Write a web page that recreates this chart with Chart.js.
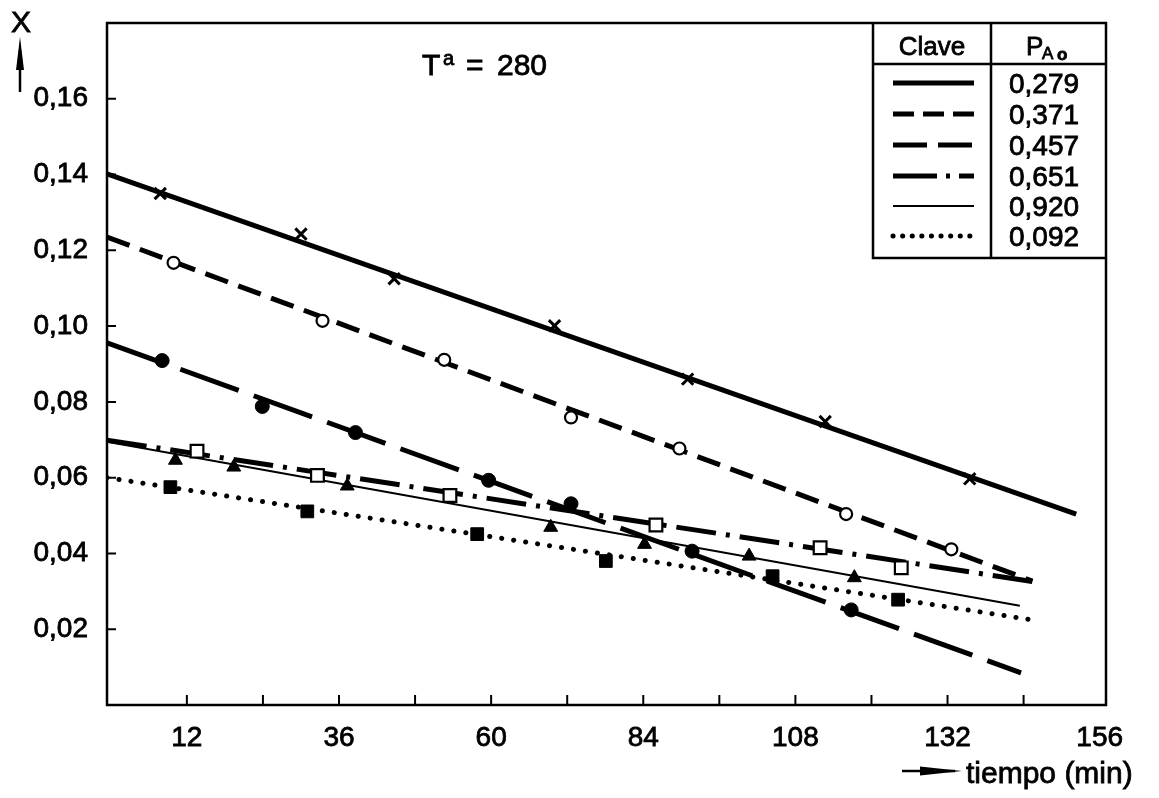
<!DOCTYPE html>
<html>
<head>
<meta charset="utf-8">
<script src="https://cdn.jsdelivr.net/npm/chart.js@4.4.1/dist/chart.umd.min.js"></script>
<style>
  html, body { margin: 0; padding: 0; background: #fff; }
  #wrap { width: 1159px; height: 798px; }
</style>
</head>
<body>
<div id="wrap"><canvas id="chart"></canvas></div>
<script>
// P_Ao values of the key, same order as the series below
const pressures = ['0,279', '0,371', '0,457', '0,651', '0,920', '0,092'];

// fitted straight lines (start / end of each)
const fitStartX = [-0.6, -0.6, -0.6, -0.6, -0.6, -0.6];
const fitStartY = [0.1402, 0.1235, 0.0956, 0.0699, 0.0695, 0.0600];
const fitEndX = [152.3, 145.4, 143.6, 145.4, 143.4, 145.2];
const fitEndY = [0.0504, 0.0327, 0.0085, 0.0326, 0.0262, 0.0225];

// measured points
const time279 = [7.8, 30, 44.7, 70, 91, 112.7, 135.5];
const conv279 = [0.135, 0.1243, 0.1125, 0.1001, 0.086, 0.0748, 0.0597];
const time371 = [9.9, 33.4, 52.6, 72.6, 89.7, 116, 132.6];
const conv371 = [0.1167, 0.1014, 0.0911, 0.0759, 0.0677, 0.0504, 0.0411];
const time457 = [8.1, 23.9, 38.6, 59.6, 72.6, 91.7, 116.8];
const conv457 = [0.0909, 0.0788, 0.0719, 0.0593, 0.0531, 0.0406, 0.0251];
const time651 = [13.6, 32.6, 53.5, 86, 111.9, 124.7];
const conv651 = [0.067, 0.0606, 0.0553, 0.0475, 0.0415, 0.0362];
const time920 = [10.2, 19.4, 37.3, 69.4, 84.2, 100.7, 117.3];
const conv920 = [0.0646, 0.0628, 0.0578, 0.0469, 0.0424, 0.0393, 0.0336];
const time092 = [9.4, 31, 57.8, 78.1, 104.4, 124.2];
const conv092 = [0.0575, 0.0511, 0.0451, 0.038, 0.034, 0.0278];

// axis ticks
const xLabelValues = [12, 36, 60, 84, 108, 132, 156];
const xMarkValues = [12, 24, 36, 48, 60, 72, 84, 96, 108, 120, 132, 144];
const yTickValues = [0.02, 0.04, 0.06, 0.08, 0.10, 0.12, 0.14, 0.16];

const FONT = "'Liberation Sans', 'DejaVu Sans', sans-serif";
const INK = '#000';

const pointSets = [
    [time279, conv279], [time371, conv371], [time457, conv457],
    [time651, conv651], [time920, conv920], [time092, conv092]
];

// look of each series (line + marker), keyDash is the pattern used in the key
const looks = [
    { width: 5, dash: [], keyDash: [], cap: 'butt', marker: 'crossRot', radius: 8, fill: INK, mWidth: 3 },
    { width: 5, dash: [24, 11], keyDash: [21, 9], cap: 'butt', marker: 'circle', radius: 6, fill: '#fff', mWidth: 2.2 },
    { width: 5, dash: [62, 16], keyDash: [34, 11], cap: 'butt', marker: 'circle', radius: 7, fill: INK, mWidth: 1 },
    { width: 5, dash: [40, 10, 4, 10], keyDash: [44, 9, 4, 9], cap: 'butt', marker: 'rect', radius: 9, fill: '#fff', mWidth: 2.2 },
    { width: 2, dash: [], keyDash: [], cap: 'butt', marker: 'triangle', radius: 8, fill: INK, mWidth: 1 },
    { width: 5, dash: [0.1, 12], keyDash: [0.1, 9.5], cap: 'round', marker: 'rect', radius: 9, fill: INK, mWidth: 1 }
];

const datasets = [];
pointSets.forEach((set, i) => {
    const look = looks[i];
    datasets.push({
        label: pressures[i] + ' puntos',
        data: set[0].map((t, k) => ({ x: t, y: set[1][k] })),
        showLine: false,
        pointStyle: look.marker,
        pointRadius: look.radius,
        pointBackgroundColor: look.fill,
        pointBorderColor: INK,
        pointBorderWidth: look.mWidth,
        order: 0
    });
    datasets.push({
        label: pressures[i],
        data: [{ x: fitStartX[i], y: fitStartY[i] }, { x: fitEndX[i], y: fitEndY[i] }],
        showLine: true,
        borderColor: INK,
        borderWidth: look.width,
        borderDash: look.dash,
        borderCapStyle: look.cap,
        pointRadius: 0,
        order: 1
    });
});

function inkText(ctx, txt, x, y) {
    ctx.fillText(txt, x, y);
    ctx.strokeText(txt, x, y);
}

// frame, inward ticks, key table and hand lettering
const paperPlugin = {
    id: 'paper',
    afterDraw(chart) {
        const ctx = chart.ctx;
        const a = chart.chartArea;
        const xs = chart.scales.x;
        const ys = chart.scales.y;
        ctx.save();
        ctx.strokeStyle = INK;
        ctx.fillStyle = INK;
        ctx.setLineDash([]);

        ctx.lineWidth = 2.5;
        ctx.strokeRect(a.left, a.top, a.right - a.left, a.bottom - a.top);

        ctx.lineWidth = 2;
        ctx.beginPath();
        xMarkValues.forEach(v => {
            const px = xs.getPixelForValue(v);
            ctx.moveTo(px, a.bottom);
            ctx.lineTo(px, a.bottom - 10);
        });
        yTickValues.forEach(v => {
            const py = ys.getPixelForValue(v);
            ctx.moveTo(a.left, py);
            ctx.lineTo(a.left + 9, py);
        });
        ctx.stroke();

        // key table
        const tL = 873, tM = 991, tR = a.right, tT = a.top, tH = 64, tB = 258;
        ctx.lineWidth = 2.5;
        ctx.beginPath();
        ctx.moveTo(tL, tT); ctx.lineTo(tL, tB); ctx.lineTo(tR, tB);
        ctx.moveTo(tM, tT); ctx.lineTo(tM, tB);
        ctx.moveTo(tL, tH); ctx.lineTo(tR, tH);
        ctx.stroke();

        ctx.lineWidth = 0.8;
        ctx.textAlign = 'center';
        ctx.textBaseline = 'alphabetic';
        ctx.font = '26px ' + FONT;
        inkText(ctx, 'Clave', (tL + tM) / 2, 55);
        ctx.textAlign = 'left';
        ctx.font = '26px ' + FONT;
        inkText(ctx, 'P', 1026, 55);
        ctx.font = '17px ' + FONT;
        inkText(ctx, 'A', 1042, 59);
        ctx.font = 'bold 17px ' + FONT;
        inkText(ctx, 'o', 1057, 60);

        const rowY = [83, 114, 145, 176, 206, 236];
        ctx.textAlign = 'center';
        ctx.textBaseline = 'middle';
        ctx.font = '28px ' + FONT;
        pressures.forEach((p, i) => {
            const look = looks[i];
            const y = rowY[i];
            inkText(ctx, p, 1044, y + 2);
            ctx.save();
            ctx.lineWidth = look.width;
            ctx.setLineDash(look.keyDash);
            ctx.lineCap = look.cap;
            ctx.beginPath();
            ctx.moveTo(893, y);
            ctx.lineTo(974, y);
            ctx.stroke();
            ctx.restore();
        });

        // temperature note
        ctx.textAlign = 'left';
        ctx.textBaseline = 'alphabetic';
        ctx.font = '30px ' + FONT;
        inkText(ctx, 'T', 422, 75);
        ctx.font = '20px ' + FONT;
        inkText(ctx, 'a', 443, 65);
        ctx.font = '30px ' + FONT;
        inkText(ctx, '=', 466, 75);
        inkText(ctx, '280', 497, 75);

        // y axis name with arrow
        ctx.textAlign = 'center';
        ctx.font = '30px ' + FONT;
        inkText(ctx, 'X', 21, 32);
        ctx.lineWidth = 2.5;
        ctx.beginPath();
        ctx.moveTo(20, 92);
        ctx.lineTo(20, 50);
        ctx.stroke();
        ctx.beginPath();
        ctx.moveTo(20, 37);
        ctx.lineTo(24, 70);
        ctx.lineTo(16, 70);
        ctx.closePath();
        ctx.fill();

        // x axis name with arrow
        ctx.beginPath();
        ctx.moveTo(902, 771);
        ctx.lineTo(955, 771);
        ctx.stroke();
        ctx.beginPath();
        ctx.moveTo(962, 771);
        ctx.lineTo(920, 766.5);
        ctx.lineTo(920, 775.5);
        ctx.closePath();
        ctx.fill();
        ctx.lineWidth = 0.8;
        ctx.textAlign = 'left';
        ctx.font = '30px ' + FONT;
        inkText(ctx, 'tiempo (min)', 966, 783);

        ctx.restore();
    }
};

new Chart(document.getElementById('chart'), {
    type: 'scatter',
    data: { datasets: datasets },
    options: {
        responsive: true,
        maintainAspectRatio: false,
        animation: false,
        layout: { padding: { top: 23, right: 53, bottom: 0, left: 0 } },
        plugins: {
            legend: { display: false },
            tooltip: { enabled: false },
            title: { display: false }
        },
        scales: {
            x: {
                type: 'linear',
                min: -0.6,
                max: 157,
                grid: { display: false, drawTicks: false },
                border: { display: false },
                afterBuildTicks: scale => {
                    scale.ticks = xLabelValues.map(v => ({ value: v }));
                },
                afterFit: scale => {
                    scale.height = 93;
                    scale.paddingLeft = 0;
                    scale.paddingRight = 0;
                },
                ticks: {
                    autoSkip: false,
                    maxRotation: 0,
                    padding: 16,
                    color: INK,
                    textStrokeColor: INK,
                    textStrokeWidth: 0.8,
                    font: { family: FONT, size: 28 },
                    callback: v => String(v)
                }
            },
            y: {
                type: 'linear',
                min: 0,
                max: 0.18,
                grid: { display: false, drawTicks: false },
                border: { display: false },
                afterBuildTicks: scale => {
                    scale.ticks = yTickValues.map(v => ({ value: v }));
                },
                afterFit: scale => {
                    scale.width = 107;
                    scale.paddingTop = 0;
                    scale.paddingBottom = 0;
                },
                ticks: {
                    autoSkip: false,
                    padding: 19,
                    color: INK,
                    textStrokeColor: INK,
                    textStrokeWidth: 0.8,
                    font: { family: FONT, size: 28 },
                    callback: v => v.toFixed(2).replace('.', ',')
                }
            }
        }
    },
    plugins: [paperPlugin]
});
</script>
</body>
</html>
